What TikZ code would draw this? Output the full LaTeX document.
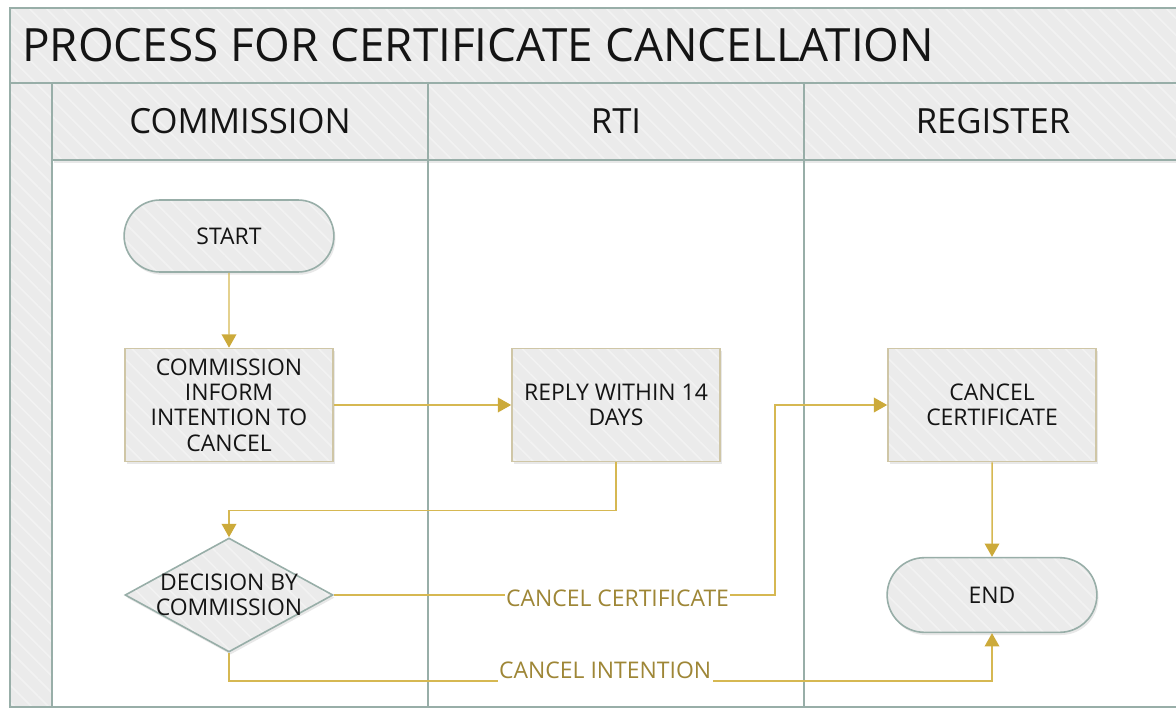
\documentclass[tikz,border=0pt]{standalone}
\usepackage{fontspec}
\setmainfont{Open Sans}
\usetikzlibrary{shapes.geometric,shapes.misc,arrows.meta,shadows,patterns.meta}
\definecolor{lanec}{RGB}{152,174,168}
\definecolor{bandc}{RGB}{235,235,235}
\definecolor{boxc}{RGB}{207,198,166}
\definecolor{flowc}{RGB}{214,184,82}
\definecolor{tipc}{RGB}{204,170,58}
\definecolor{lblc}{RGB}{158,134,54}
\definecolor{inkc}{RGB}{20,20,20}
\begin{document}
\begin{tikzpicture}[x=0.75pt,y=-0.75pt,
  hatch/.style={preaction={fill=bandc},pattern={Lines[angle=-45,distance=9pt,line width=1.2pt]},pattern color=white!35!bandc},
  shade/.style={drop shadow={opacity=0.18,shadow xshift=1.2pt,shadow yshift=-2pt}},
  txt/.style={text=inkc,align=center,font=\fontsize{17.2}{19.1}\selectfont},
  proc/.style={rectangle,shade,hatch,draw=boxc,line width=1.2pt,txt,minimum width=156pt,minimum height=84.75pt},
  term/.style={rounded rectangle,shade,hatch,draw=lanec,line width=1.2pt,txt,minimum width=164pt,minimum height=54pt},
  decide/.style={diamond,shade,hatch,draw=lanec,line width=1.2pt,txt,aspect=1.8,inner sep=-12pt,minimum width=156pt,minimum height=85.5pt},
  hdr/.style={text=inkc,font=\fontsize{26}{30}\selectfont},
  flow/.style={draw=flowc,line width=1.1pt,-{Triangle[length=10pt,width=11pt,color=tipc]}},
  lbl/.style={fill=white,text=lblc,inner sep=1pt,font=\fontsize{17.2}{19.1}\selectfont}]
\useasboundingbox (0,0) rectangle (1176,709);
\draw[hatch,draw=lanec,line width=1.5pt] (10,8) rectangle (1190,83);
\draw[hatch,draw=lanec,line width=1.5pt] (10,83) rectangle (52,707);
\foreach \xa/\xb in {52/428,428/804,804/1190}
  \draw[shade,hatch,draw=lanec,line width=1.5pt] (\xa,83) rectangle (\xb,160);
\draw[lanec,line width=1.5pt] (52,160) -- (52,707) (428,160) -- (428,707) (804,160) -- (804,707) (10,707) -- (1190,707);
\node[anchor=west,inner sep=0pt,text=inkc,font=\fontsize{34.4}{40}\selectfont] (title) at (22,45) {PROCESS FOR CERTIFICATE CANCELLATION};
\node[hdr] (hcom) at (240,121) {COMMISSION};
\node[hdr] (hrti) at (616,121) {RTI};
\node[hdr] (hreg) at (993,121) {REGISTER};
\node[term] (start) at (229,236) {START};
\node[proc] (inform) at (229,405) {COMMISSION\\INFORM\\INTENTION TO\\CANCEL};
\node[proc] (reply) at (616,405) {REPLY WITHIN 14\\DAYS};
\node[proc] (cancel) at (992,405) {CANCEL\\CERTIFICATE};
\node[decide] (decision) at (229,595) {DECISION BY\\COMMISSION};
\node[term,minimum height=56pt] (end) at (992,595) {END};
\coordinate (split) at (775,595);
\draw[flow] (start) -- (inform);
\draw[flow] (inform) -- (reply);
\draw[flow] (reply.south) -- ++(0,48) -| (decision.north);
\draw[flow] (decision.east) -- (split) node[lbl,pos=0.643,anchor=base,yshift=-8.25pt]{CANCEL CERTIFICATE} |- (cancel.west);
\draw[flow] (decision.south) -- ++(0,28) coordinate (low) -- (low -| end.south) node[lbl,pos=0.493,anchor=base,yshift=1.5pt,text depth=4pt]{CANCEL INTENTION} -- (end.south);
\draw[flow] (cancel) -- (end);
\end{tikzpicture}
\end{document}
